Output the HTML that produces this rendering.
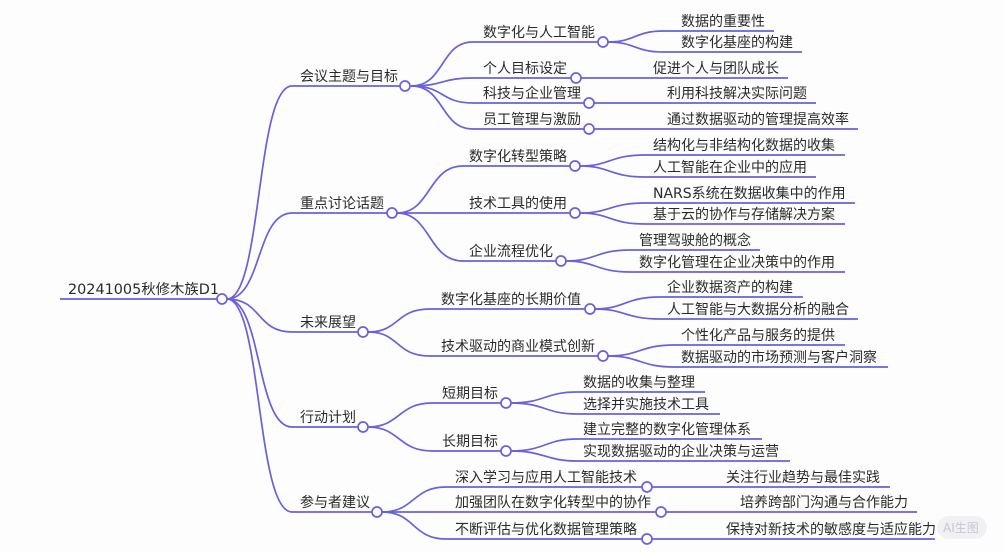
<!DOCTYPE html>
<html><head><meta charset="utf-8"><style>
html,body{margin:0;padding:0;background:#fdfdfd;width:1004px;height:553px;overflow:hidden}
svg{display:block}
text{font-family:"DejaVu Sans","Noto Sans CJK SC",sans-serif;font-size:14px;fill:#2a2a2a}
.l{fill:none;stroke:#6a60dc;stroke-width:1.7}
.c{fill:#fff;stroke:#6a60dc;stroke-width:1.7}
</style></head><body>
<svg width="1004" height="553" viewBox="0 0 1004 553">
<g class="l">
<path d="M60,299H217"/>
<path d="M227,299C262,299 256,86 292,86H400"/>
<path d="M227,299C262,299 256,213 292,213H387"/>
<path d="M227,299C262,299 256,332 292,332H358"/>
<path d="M227,299C262,299 256,427 292,427H358"/>
<path d="M227,299C262,299 256,512 292,512H372"/>
<path d="M411,86C445,86 440,42 473,42H598"/>
<path d="M411,86C445,86 440,78 473,78H571"/>
<path d="M411,86C445,86 440,103 473,103H584"/>
<path d="M411,86C445,86 440,129 473,129H584"/>
<path d="M608,42C635,42 635,31 663,31H774"/>
<path d="M608,42C635,42 635,52 663,52H802"/>
<path d="M581,78H788"/>
<path d="M594,103H816"/>
<path d="M594,129H858"/>
<path d="M397,213C431,213 428,166 463,166H570"/>
<path d="M397,213H570"/>
<path d="M397,213C431,213 428,261 463,261H556"/>
<path d="M580,166C610,166 610,155 645,155H845"/>
<path d="M580,166C610,166 610,177 645,177H816"/>
<path d="M580,213C610,213 610,203 645,203H855"/>
<path d="M580,213C610,213 610,224 645,224H845"/>
<path d="M566,261C596,261 596,250 630,250H760"/>
<path d="M566,261C596,261 596,272 630,272H845"/>
<path d="M368,332C400,332 395,309 430,309H585"/>
<path d="M368,332C400,332 395,356 430,356H598"/>
<path d="M595,309C625,309 625,297 660,297H803"/>
<path d="M595,309C625,309 625,319 660,319H858"/>
<path d="M608,356C640,356 640,345 674,345H845"/>
<path d="M608,356C640,356 640,367 674,367H888"/>
<path d="M368,427C400,427 398,403 432,403H501"/>
<path d="M368,427C400,427 398,451 432,451H501"/>
<path d="M511,403C545,403 545,392 577,392H705"/>
<path d="M511,403C545,403 545,414 577,414H720"/>
<path d="M511,451C545,451 545,439 577,439H762"/>
<path d="M511,451C545,451 545,461 577,461H790"/>
<path d="M382,512C415,512 412,487 446,487H642"/>
<path d="M382,512H656"/>
<path d="M382,512C415,512 412,539 446,539H642"/>
<path d="M652,487H890"/>
<path d="M666,512H917"/>
<path d="M652,539H935"/>
</g>
<g class="c">
<circle cx="222" cy="299" r="5"/>
<circle cx="405" cy="86" r="5"/><circle cx="392" cy="213" r="5"/>
<circle cx="363" cy="332" r="5"/><circle cx="363" cy="427" r="5"/><circle cx="377" cy="512" r="5"/>
<circle cx="603" cy="42" r="5"/><circle cx="576" cy="78" r="5"/><circle cx="589" cy="103" r="5"/><circle cx="589" cy="129" r="5"/>
<circle cx="575" cy="166" r="5"/><circle cx="575" cy="213" r="5"/><circle cx="561" cy="261" r="5"/>
<circle cx="590" cy="309" r="5"/><circle cx="603" cy="356" r="5"/>
<circle cx="506" cy="403" r="5"/><circle cx="506" cy="451" r="5"/>
<circle cx="647" cy="487" r="5"/><circle cx="661" cy="512" r="5"/><circle cx="647" cy="539" r="5"/>
</g>
<text x="68" y="294" style="font-size:14.4px">20241005秋修木族D1</text>
<text x="300" y="81">会议主题与目标</text>
<text x="300" y="208">重点讨论话题</text>
<text x="300" y="327">未来展望</text>
<text x="300" y="422">行动计划</text>
<text x="300" y="507">参与者建议</text>
<text x="483" y="37">数字化与人工智能</text>
<text x="483" y="73">个人目标设定</text>
<text x="483" y="98">科技与企业管理</text>
<text x="483" y="124">员工管理与激励</text>
<text x="681" y="26">数据的重要性</text>
<text x="681" y="47">数字化基座的构建</text>
<text x="653" y="73">促进个人与团队成长</text>
<text x="667" y="98">利用科技解决实际问题</text>
<text x="667" y="124">通过数据驱动的管理提高效率</text>
<text x="469" y="161">数字化转型策略</text>
<text x="469" y="208">技术工具的使用</text>
<text x="469" y="256">企业流程优化</text>
<text x="653" y="150">结构化与非结构化数据的收集</text>
<text x="653" y="172">人工智能在企业中的应用</text>
<text x="653" y="198">NARS系统在数据收集中的作用</text>
<text x="653" y="219">基于云的协作与存储解决方案</text>
<text x="639" y="245">管理驾驶舱的概念</text>
<text x="639" y="267">数字化管理在企业决策中的作用</text>
<text x="441" y="304">数字化基座的长期价值</text>
<text x="441" y="351">技术驱动的商业模式创新</text>
<text x="667" y="292">企业数据资产的构建</text>
<text x="667" y="314">人工智能与大数据分析的融合</text>
<text x="681" y="340">个性化产品与服务的提供</text>
<text x="681" y="362">数据驱动的市场预测与客户洞察</text>
<text x="442" y="398">短期目标</text>
<text x="442" y="446">长期目标</text>
<text x="583" y="387">数据的收集与整理</text>
<text x="583" y="409">选择并实施技术工具</text>
<text x="583" y="434">建立完整的数字化管理体系</text>
<text x="583" y="456">实现数据驱动的企业决策与运营</text>
<text x="455" y="482">深入学习与应用人工智能技术</text>
<text x="455" y="507">加强团队在数字化转型中的协作</text>
<text x="455" y="534">不断评估与优化数据管理策略</text>
<text x="726" y="482">关注行业趋势与最佳实践</text>
<text x="740" y="507">培养跨部门沟通与合作能力</text>
<text x="726" y="534">保持对新技术的敏感度与适应能力</text>
<rect x="937" y="516" width="50" height="23" rx="11.5" fill="#f1f1f4"/>
<text x="943" y="532" style="font-size:12px;fill:#c6c6d4">AI生图</text>
</svg>
</body></html>
